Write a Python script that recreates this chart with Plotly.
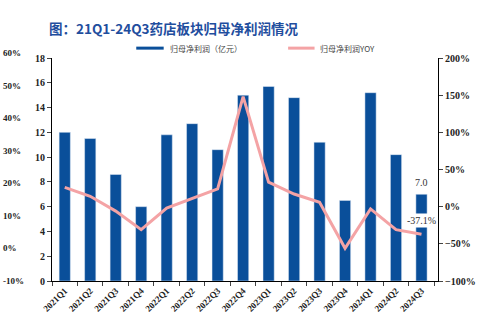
import plotly.graph_objects as go

quarters = ["2021Q1","2021Q2","2021Q3","2021Q4","2022Q1","2022Q2","2022Q3","2022Q4",
            "2023Q1","2023Q2","2023Q3","2023Q4","2024Q1","2024Q2","2024Q3"]
profit = [12.0, 11.5, 8.6, 6.0, 11.8, 12.7, 10.6, 15.0, 15.7, 14.8, 11.2, 6.5, 15.2, 10.2, 7.0]
yoy = [26, 14, -6, -31, -2, 11, 24, 148, 33, 17, 6, -56, -3, -31, -37.1]
ghost_labels = ["60%", "50%", "40%", "30%", "20%", "10%", "0%", "-10%"]
ghost_values = [60, 50, 40, 30, 20, 10, 0, -10]

BLUE = "#0A4F9A"
PINK = "#F4A3A5"
TICKFONT = dict(family="Liberation Serif", size=10, color="#222", weight="bold")

fig = go.Figure()
fig.add_trace(go.Bar(x=quarters, y=profit, name="归母净利润（亿元）", marker_color=BLUE,
                     yaxis="y", showlegend=False))
fig.add_trace(go.Scatter(x=quarters, y=yoy, name="归母净利润YOY", mode="lines",
                         line=dict(color=PINK, width=3), yaxis="y2", showlegend=False))

L, R, T, B = 52, 42, 58, 42
W, H = 488, 326
pw = W - L - R
ph = H - T - B

fig.update_layout(
    width=W, height=H, margin=dict(l=L, r=R, t=T, b=B),
    paper_bgcolor="white", plot_bgcolor="white", bargap=0.56,
    xaxis=dict(showline=True, linecolor="black", linewidth=1, ticks="outside", ticklen=4,
               tickson="boundaries", tickangle=-45, tickfont=dict(family="Liberation Serif", size=9, color="#222", weight="bold"),
               showgrid=False),
    yaxis=dict(range=[0, 18], dtick=2, showline=True, linecolor="black", linewidth=1,
               ticks="outside", ticklen=4, showgrid=False, zeroline=False, tickfont=TICKFONT),
    yaxis2=dict(range=[-100, 200], dtick=50, overlaying="y", side="right", showline=True,
                linecolor="black", linewidth=1, ticks="outside", ticklen=4, showgrid=False,
                zeroline=False, ticksuffix="%", tickfont=TICKFONT),
    font=dict(family="Liberation Serif"),
)

# Title
fig.add_annotation(text="图：21Q1-24Q3药店板块归母净利润情况", xref="paper", yref="paper",
                   x=(47 - L) / pw, y=(H - 28 - B) / ph, xanchor="left", yanchor="middle",
                   showarrow=False,
                   font=dict(family="Noto Sans CJK SC", size=13.5, color="#1F4E9E", weight="bold"))

# Legend (manual)
leg_y = (H - 48 - B) / ph
for x0, x1, col, txt in [(138, 166, BLUE, "归母净利润（亿元）"), (293, 320, PINK, "归母净利润YOY")]:
    fig.add_shape(type="line", xref="paper", yref="paper",
                  x0=(x0 - L) / pw, x1=(x1 - L) / pw, y0=leg_y, y1=leg_y,
                  line=dict(color=col, width=3))
    fig.add_annotation(text=txt, xref="paper", yref="paper", x=(x1 + 4 - L) / pw, y=leg_y,
                       xanchor="left", yanchor="middle", showarrow=False,
                       font=dict(family="Noto Sans CJK SC", size=8, color="#444"))

# Ghost left axis labels (cropped axis from neighbouring chart)
for lab, v in zip(ghost_labels, ghost_values):
    ypx = 251 - v * 3.3
    fig.add_annotation(text=lab, xref="paper", yref="paper", x=(0 - L) / pw,
                       y=(H - ypx - B) / ph, xanchor="left", yanchor="middle", showarrow=False,
                       font=dict(family="Liberation Serif", size=9, color="#222", weight="bold"))

# Data labels on last point
fig.add_annotation(text=f"{profit[-1]:.1f}", x=quarters[-1], y=profit[-1], yref="y",
                   yanchor="bottom", yshift=4, showarrow=False,
                   font=dict(family="Liberation Serif", size=10, color="#333"))
fig.add_annotation(text=f"{yoy[-1]:.1f}%", x=quarters[-1], y=yoy[-1], yref="y2",
                   yanchor="bottom", yshift=6, showarrow=False, bgcolor="white",
                   font=dict(family="Liberation Serif", size=10, color="#333"))

fig.write_html("out.html")
